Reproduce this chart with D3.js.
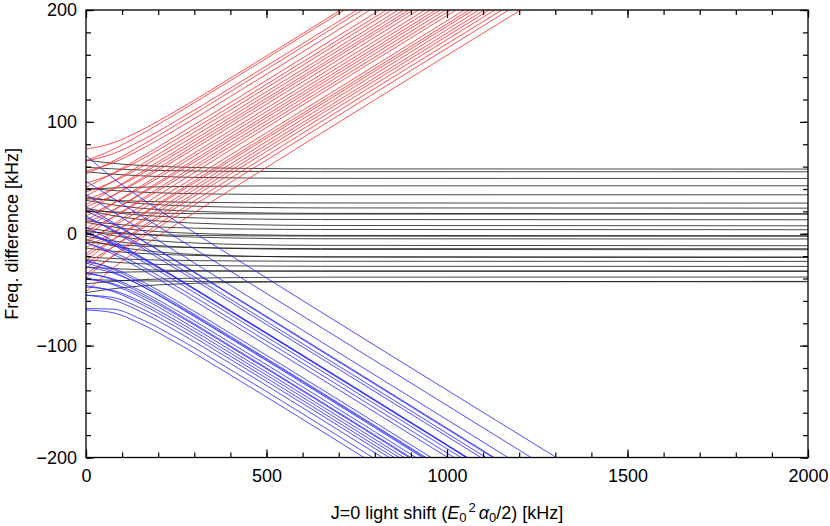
<!DOCTYPE html>
<html><head><meta charset="utf-8">
<script src="https://cdn.jsdelivr.net/npm/d3@7"></script>
<style>
html,body{margin:0;padding:0;background:#fff;}
svg{display:block;font-family:"Liberation Sans",Arial,Helvetica,sans-serif;}
</style></head>
<body>
<svg id="chart" width="830" height="526"></svg>
<script>
// sample positions along x (kHz) at which the red and blue curves were read
const gridX = [0, 75, 150, 250, 400];
// sample positions along x (kHz) at which the black curves were read
const blackGridX = [0, 100, 200, 300, 450, 650];

// red curves: values at gridX, then x where they leave the top (y=200)
const redY = [
 [75.7, 81.2, 92.1, 109.9, 139.1],
 [65.2, 75.4, 88.4, 107.3, 136.9],
 [65.0, 71.5, 82.8, 100.9, 130.2],
 [53.4, 64.8, 78.2, 97.4, 127.1],
 [56.0, 63.4, 75.1, 93.3, 122.7],
 [41.6, 54.1, 68.0, 87.5, 117.2],
 [45.3, 53.7, 65.8, 84.3, 113.7],
 [33.7, 46.9, 61.2, 80.8, 110.6],
 [37.4, 46.5, 59.0, 77.6, 107.1],
 [25.9, 39.9, 54.5, 74.2, 104.1],
 [30.3, 40.1, 52.8, 71.7, 101.2],
 [19.4, 34.0, 48.8, 68.7, 98.7],
 [24.0, 34.4, 47.3, 66.3, 95.9],
 [11.6, 26.9, 42.1, 62.2, 92.2],
 [16.0, 27.2, 40.5, 59.6, 89.3],
 [4.4, 20.4, 35.9, 56.1, 86.2],
 [9.6, 21.3, 34.9, 54.2, 83.9],
 [-2.0, 14.6, 30.3, 50.6, 80.8],
 [2.5, 14.9, 28.8, 48.2, 78.0],
 [-9.1, 8.1, 24.2, 44.6, 74.9],
 [-6.5, 6.7, 21.0, 40.6, 70.4],
 [-18.0, 0.1, 16.5, 37.2, 67.4],
 [-12.5, 1.3, 15.8, 35.5, 65.4],
 [-24.1, -5.4, 11.2, 32.0, 62.3],
 [-19.7, -5.2, 9.6, 29.5, 59.4],
 [-31.2, -11.9, 5.1, 26.0, 56.4],
 [-26.8, -11.6, 3.4, 23.5, 53.5],
 [-39.5, -19.4, -2.1, 19.0, 49.5],
 [-36.0, -20.0, -4.5, 15.7, 45.8],
 [-52.0, -30.7, -12.9, 8.5, 39.1]
];
const redExit = [705, 716, 750, 765, 787, 814, 832, 847, 865, 880, 894, 906, 921, 939, 954,
 969, 981, 996, 1010, 1025, 1048, 1062, 1073, 1088, 1103, 1117, 1132, 1152, 1171, 1204];

// blue curves: values at gridX, then x where they leave the bottom (y=-200)
const blueY = [
 [70.0, 49.7, 32.4, 11.2, -19.3],
 [46.9, 31.7, 16.6, -3.4, -33.4],
 [35.3, 19.4, 4.1, -16.1, -46.2],
 [20.4, 8.7, -4.9, -24.2, -53.9],
 [24.4, 10.0, -4.8, -24.7, -54.6],
 [14.5, 3.5, -9.7, -28.8, -58.5],
 [15.9, 2.5, -11.8, -31.4, -61.2],
 [1.3, -8.0, -20.5, -39.2, -68.7],
 [5.8, -6.3, -20.0, -39.3, -69.1],
 [0.2, -8.9, -21.4, -40.0, -69.5],
 [1.6, -9.9, -23.4, -42.6, -72.3],
 [-8.3, -16.4, -28.3, -46.8, -76.1],
 [-8.0, -18.2, -31.2, -50.1, -79.7],
 [-24.9, -30.8, -41.8, -59.8, -89.0],
 [-23.5, -31.8, -43.9, -62.3, -91.7],
 [-29.8, -35.1, -45.9, -63.7, -92.8],
 [-26.1, -34.0, -46.0, -64.4, -93.7],
 [-35.8, -40.3, -50.7, -68.4, -97.4],
 [-34.4, -41.3, -52.7, -70.9, -100.2],
 [-40.7, -44.6, -54.7, -72.2, -101.2],
 [-39.3, -45.6, -56.7, -74.8, -104.0],
 [-47.7, -50.7, -60.4, -77.7, -106.7],
 [-46.3, -51.6, -62.4, -80.3, -109.4],
 [-54.9, -57.0, -66.3, -83.4, -112.3],
 [-54.9, -59.1, -69.4, -87.0, -116.0],
 [-66.9, -67.4, -76.0, -92.8, -121.5],
 [-68.1, -70.6, -80.2, -97.4, -126.3]
];
const blueExit = [1303, 1233, 1169, 1131, 1127, 1108, 1094, 1057, 1055, 1053, 1039, 1020, 1002,
 956, 942, 937, 932, 914, 900, 895, 881, 868, 854, 840, 821, 794, 770];

// black curves: values at blackGridX, then the flat level reached (read at x=2000)
const blackY = [
 [65.8, 62.2, 60.3, 59.2, 58.4, 58.0],
 [59.4, 57.6, 56.6, 56.1, 55.7, 55.5],
 [55.4, 52.7, 51.2, 50.4, 49.8, 49.5],
 [39.9, 41.2, 42.0, 42.4, 42.7, 42.8],
 [40.8, 38.1, 36.6, 35.8, 35.2, 34.9],
 [31.4, 29.6, 28.6, 28.1, 27.7, 27.5],
 [32.9, 28.5, 26.0, 24.6, 23.6, 23.1],
 [29.9, 24.6, 21.6, 20.0, 18.8, 18.2],
 [20.5, 19.2, 18.4, 18.0, 17.7, 17.6],
 [22.5, 18.1, 15.6, 14.2, 13.2, 12.7],
 [21.1, 14.9, 11.4, 9.5, 8.1, 7.4],
 [11.6, 8.0, 6.1, 5.0, 4.2, 3.8],
 [10.2, 4.9, 1.9, 0.3, -0.9, -1.5],
 [1.8, 0.0, -1.0, -1.5, -1.9, -2.1],
 [5.3, 0.9, -1.6, -3.0, -4.0, -4.5],
 [3.3, -2.9, -6.4, -8.3, -9.7, -10.4],
 [-7.4, -10.1, -11.6, -12.4, -13.0, -13.3],
 [-2.3, -7.6, -10.6, -12.2, -13.4, -14.0],
 [-12.8, -16.4, -18.3, -19.4, -20.2, -20.6],
 [-5.2, -12.3, -16.3, -18.5, -20.1, -20.8],
 [-20.7, -22.5, -23.5, -24.0, -24.4, -24.6],
 [-23.2, -25.9, -27.4, -28.2, -28.8, -29.1],
 [-35.2, -34.3, -33.8, -33.5, -33.3, -33.2],
 [-29.7, -31.5, -32.5, -33.0, -33.4, -33.6],
 [-44.7, -42.0, -40.5, -39.7, -39.1, -38.8],
 [-52.6, -48.2, -45.7, -44.3, -43.3, -42.8],
 [-40.9, -41.8, -42.3, -42.6, -42.8, -42.9]
];
const blackLevel = [57.8, 55.4, 49.4, 42.9, 34.8, 27.4, 22.9, 17.9, 17.5, 12.5, 7.1, 3.6, -1.8,
 -2.2, -4.7, -10.7, -13.4, -14.3, -20.8, -21.2, -24.7, -29.2, -33.2, -33.7, -38.7, -42.6, -42.9];

const xMajor = [0, 500, 1000, 1500, 2000];
const yMajor = [-200, -100, 0, 100, 200];

const svg = d3.select("#chart");
const L = 86, R = 808, T = 10, B = 457.5;
const x = d3.scaleLinear().domain([0, 2000]).range([L, R]);
const y = d3.scaleLinear().domain([-200, 200]).range([B, T]);

svg.append("defs").append("clipPath").attr("id", "clip")
  .append("rect").attr("x", L).attr("y", T).attr("width", R - L).attr("height", B - T);

const line = d3.line().x(d => x(d[0])).y(d => y(d[1])).curve(d3.curveMonotoneX);
const plot = svg.append("g").attr("clip-path", "url(#clip)");

function draw(rows, gx, endFn, color, width) {
  plot.append("g").selectAll("path").data(rows).join("path")
    .attr("d", (row, k) => line(gx.map((v, i) => [v, row[i]]).concat([endFn(k)])))
    .attr("fill", "none").attr("stroke", color).attr("stroke-width", width);
}
draw(blackY, blackGridX, k => [2000, blackLevel[k]], "#1a1a1a", 0.8);
draw(redY, gridX, k => [redExit[k], 200], "#ff2626", 0.8);
draw(blueY, gridX, k => [blueExit[k], -200], "#2222ff", 0.8);

// axes
const fmt = d3.format("d");
const axStyle = g => {
  g.selectAll("path.domain").remove();
  g.selectAll("line").attr("stroke", "#000").attr("stroke-width", 1.2);
  g.selectAll("text").attr("font-size", 18).attr("fill", "#000")
    .attr("font-family", "'Liberation Sans',Arial,Helvetica,sans-serif");
};
svg.append("g").attr("transform", `translate(0,${B})`)
  .call(d3.axisBottom(x).tickValues(xMajor).tickFormat(fmt).tickSize(-8).tickPadding(12)).call(axStyle);
svg.append("g").attr("transform", `translate(0,${B})`)
  .call(d3.axisBottom(x).tickValues(d3.range(0, 2001, 100)).tickFormat("").tickSize(-5)).call(axStyle);
svg.append("g").attr("transform", `translate(0,${T})`)
  .call(d3.axisTop(x).tickValues(xMajor).tickFormat("").tickSize(-8)).call(axStyle);
svg.append("g").attr("transform", `translate(0,${T})`)
  .call(d3.axisTop(x).tickValues(d3.range(0, 2001, 100)).tickFormat("").tickSize(-5)).call(axStyle);
svg.append("g").attr("transform", `translate(${L},0)`)
  .call(d3.axisLeft(y).tickValues(yMajor).tickFormat(fmt).tickSize(-8).tickPadding(9)).call(axStyle);
svg.append("g").attr("transform", `translate(${L},0)`)
  .call(d3.axisLeft(y).tickValues(d3.range(-200, 201, 20)).tickFormat("").tickSize(-5)).call(axStyle);
svg.append("g").attr("transform", `translate(${R},0)`)
  .call(d3.axisRight(y).tickValues(yMajor).tickFormat("").tickSize(-8)).call(axStyle);
svg.append("g").attr("transform", `translate(${R},0)`)
  .call(d3.axisRight(y).tickValues(d3.range(-200, 201, 20)).tickFormat("").tickSize(-5)).call(axStyle);

svg.append("rect").attr("x", L).attr("y", T).attr("width", R - L).attr("height", B - T)
  .attr("fill", "none").attr("stroke", "#000").attr("stroke-width", 1.3);

// axis titles
svg.append("text").attr("transform", `translate(18,${(T + B) / 2}) rotate(-90)`)
  .attr("text-anchor", "middle").attr("font-size", 18).text("Freq. difference [kHz]");

const xt = svg.append("text").attr("x", (L + R) / 2).attr("y", 519)
  .attr("text-anchor", "middle").attr("font-size", 18);
xt.append("tspan").text("J=0 light shift (");
xt.append("tspan").attr("font-style", "italic").text("E");
xt.append("tspan").attr("font-size", 13).attr("dy", 3).text("0");
xt.append("tspan").attr("font-size", 13).attr("dy", -10).attr("dx", 2).text("2");
xt.append("tspan").attr("font-style", "italic").attr("dy", 7).attr("dx", 3).text("α");
xt.append("tspan").attr("font-size", 13).attr("dy", 3).text("0");
xt.append("tspan").attr("dy", -3).text("/2) [kHz]");
</script>
</body></html>
